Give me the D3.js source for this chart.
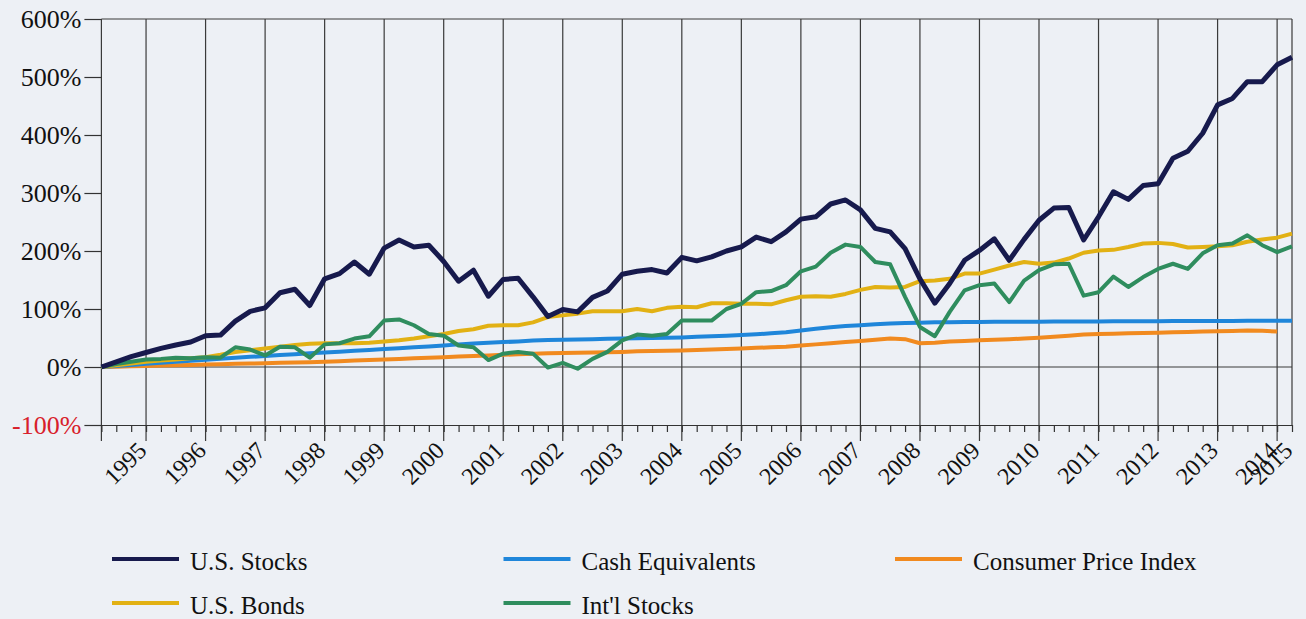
<!DOCTYPE html>
<html>
<head>
<meta charset="utf-8">
<script src="https://cdnjs.cloudflare.com/ajax/libs/d3/7.8.5/d3.min.js"></script>
<style>
  body { margin: 0; background: #edf0f5; }
  svg { display: block; font-family: "Liberation Serif", "Times New Roman", serif; }
  .axis path, .axis line { stroke: #333; stroke-width: 1.2; }
</style>
</head>
<body>
<div id="chart"></div>
<script>
// quarterly growth (%), index 0 = start of series
var yearLabels = ["1995","1996","1997","1998","1999","2000","2001","2002","2003","2004",
                  "2005","2006","2007","2008","2009","2010","2011","2012","2013","2014","2015"];

var usStocks = [0,9,18,25,32,38,43,54,55,79,
                96,102,128,134,106,152,161,181,160,205,
                219,207,210,182,148,167,122,151,153,121,
                87,99,95,120,131,160,165,168,162,189,
                183,190,200,207,224,216,233,255,259,281,
                288,271,239,233,204,152,110,144,184,201,
                221,184,220,253,274,275,219,259,302,289,
                313,316,360,372,403,452,463,492,492,521,
                534];

var usBonds = [0,3,6,9,11,13,15,17,21,26,
               29,32,35,38,40,41,41,41,42,44,
               46,49,53,57,62,65,71,72,72,77,
               86,89,92,96,96,96,100,96,102,104,
               103,110,110,109,109,108,115,121,122,121,
               126,133,138,137,138,148,149,152,161,161,
               168,175,181,178,180,187,197,201,202,207,
               213,214,212,206,207,208,210,216,220,223,
               230];

var cashEquivalents = [0,1.8,3.6,5.4,7.2,9,10.8,12.5,14.2,16,
                       17.5,19,20.5,22,23.5,25,26.5,28,29.5,31,
                       32.5,34,35.5,37,39,40.5,42,43,44,45.5,
                       46.5,47,47.5,48,48.5,49,49.5,50,50.5,51,
                       52,53,54,55,56.5,58,60,63,66,68.5,
                       70.5,72,73.5,75,76,76.5,77,77.3,77.5,77.7,
                       77.9,78,78.1,78.2,78.3,78.4,78.5,78.6,78.7,78.8,
                       78.9,79,79.1,79.2,79.3,79.4,79.5,79.6,79.7,79.8,
                       79.9];

var intlStocks = [0,5,9,13,14,16,15,17,16,34,
                  30,20,35,34,16,39,41,49,53,80,
                  82,72,57,54,37,34,12,23,26,23,
                  -1,7,-3,14,26,46,56,54,57,80,
                  80,80,100,109,129,131,141,165,173,197,
                  211,207,181,177,121,69,53,95,132,141,
                  144,112,149,167,177,178,123,129,156,138,
                  155,169,178,169,196,210,213,227,210,198,
                  208];

var consumerPriceIndex = [0,0.6,1.2,1.8,2.4,3,3.6,4.2,4.8,5.4,
                          6,6.6,7.2,7.8,8.4,9,10,11,12,13,
                          14,15,16,17,18,19,20,21,22,23,
                          23.5,24,24.5,25,25.5,26,27,27.5,28,28.5,
                          29.5,30,31,32,33,34,35,37,39,41,
                          43,45,47,49,48,41,42,44,45,46,
                          47,48,49,50.5,52,54,56,57,57.5,58,
                          58.5,59,60,60.5,61,61.5,62,63,62.5,61];

var yTicks = [-100, 0, 100, 200, 300, 400, 500, 600];

var seriesNames  = ["U.S. Stocks", "U.S. Bonds", "Cash Equivalents", "Int'l Stocks", "Consumer Price Index"];
var seriesData   = [usStocks, usBonds, cashEquivalents, intlStocks, consumerPriceIndex];
var seriesColors = ["#171a4d", "#e2b114", "#1f86da", "#2f8d5e", "#f18a1f"];
var drawOrder    = [4, 2, 1, 3, 0];

var width = 1306, height = 619;
var plotLeft = 101.4, plotRight = 1292, plotTop = 19, plotBottom = 425;
var serif = "'Liberation Serif', 'Times New Roman', serif";

var nQuarters = usStocks.length;
var x = d3.scaleLinear().domain([0, nQuarters - 1]).range([plotLeft, plotRight]);
var y = d3.scaleLinear().domain([-100, 600]).range([plotBottom, plotTop]);

// year marks: one per year-end quarter, last label at the final quarter
var yearIndex = d3.range(3, nQuarters - 1, 4).concat([nQuarters - 1]);

var svg = d3.select("#chart").append("svg")
    .attr("width", width)
    .attr("height", height);

// vertical year lines (plus left edge)
svg.append("g")
  .selectAll("line")
  .data([0].concat(yearIndex.slice(0, -1)))
  .enter().append("line")
    .attr("x1", function(d) { return x(d); })
    .attr("x2", function(d) { return x(d); })
    .attr("y1", y(600))
    .attr("y2", plotBottom + 16)
    .attr("stroke", "#3a3a3a")
    .attr("stroke-width", 1.2);

// right edge
svg.append("line")
    .attr("x1", x(nQuarters - 1)).attr("x2", x(nQuarters - 1))
    .attr("y1", y(600)).attr("y2", y(-100))
    .attr("stroke", "#3a3a3a").attr("stroke-width", 1.2);

// top edge and zero line
svg.append("g")
  .selectAll("line")
  .data([600, 0])
  .enter().append("line")
    .attr("x1", x(0))
    .attr("x2", x(nQuarters - 1))
    .attr("y1", function(d) { return y(d); })
    .attr("y2", function(d) { return y(d); })
    .attr("stroke", "#3a3a3a")
    .attr("stroke-width", 1.2);

// bottom axis with quarter ticks
var xAxis = d3.axisBottom(x)
    .tickValues(d3.range(nQuarters))
    .tickSize(7)
    .tickSizeOuter(0)
    .tickFormat("");

svg.append("g")
    .attr("class", "axis")
    .attr("transform", "translate(0," + y(-100) + ")")
    .call(xAxis);

svg.append("g")
  .selectAll("text")
  .data(yearIndex)
  .enter().append("text")
    .attr("transform", function(d) { return "translate(" + (x(d) + 2) + "," + (plotBottom + 27) + ") rotate(-45)"; })
    .attr("text-anchor", "end")
    .attr("font-family", serif)
    .attr("font-size", 24)
    .attr("fill", "#111")
    .text(function(d, i) { return yearLabels[i]; });

// left axis
var yAxis = d3.axisLeft(y)
    .tickValues(yTicks)
    .tickSize(17)
    .tickPadding(3)
    .tickFormat(function(d) { return d + "%"; });

var yg = svg.append("g")
    .attr("class", "axis")
    .attr("transform", "translate(" + plotLeft + ",0)")
    .call(yAxis)
    .attr("font-family", serif)
    .attr("font-size", 26);

yg.select(".domain").remove();
yg.selectAll("text")
    .attr("fill", function(d) { return d < 0 ? "#d8202a" : "#111"; });

// series lines
var line = d3.line()
    .x(function(d, i) { return x(i); })
    .y(function(d) { return y(d); });

drawOrder.forEach(function(s) {
  svg.append("path")
      .datum(seriesData[s])
      .attr("fill", "none")
      .attr("stroke", seriesColors[s])
      .attr("stroke-width", s === 0 ? 5 : 4)
      .attr("stroke-linejoin", "round")
      .attr("d", line);
});

// legend, two rows, filled column by column
var legend = svg.append("g")
  .selectAll("g")
  .data(seriesNames)
  .enter().append("g")
    .attr("transform", function(d, i) {
      return "translate(" + (112 + Math.floor(i / 2) * 391.5) + "," + (559 + (i % 2) * 44) + ")";
    });

legend.append("line")
    .attr("x1", 0).attr("x2", 67)
    .attr("stroke", function(d, i) { return seriesColors[i]; })
    .attr("stroke-width", 4);

legend.append("text")
    .attr("x", 78)
    .attr("y", 11)
    .attr("font-family", serif)
    .attr("font-size", 25)
    .attr("fill", "#111")
    .text(function(d) { return d; });
</script>
</body>
</html>
